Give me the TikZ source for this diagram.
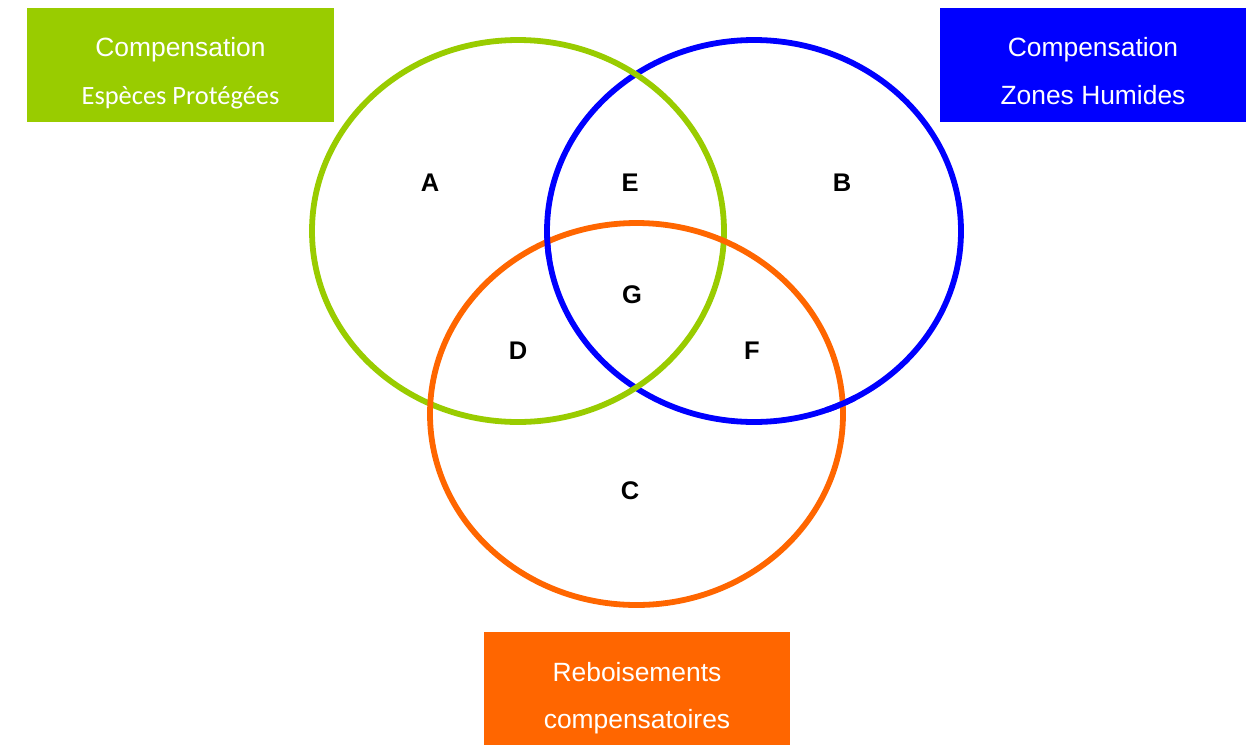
\documentclass[tikz,border=0pt]{standalone}
\usepackage{fontspec}
\setmainfont{Liberation Sans}
\newfontfamily\carlito{Carlito}
\definecolor{vgreen}{HTML}{99CC00}
\definecolor{vblue}{HTML}{0000FF}
\definecolor{vorange}{HTML}{FF6600}
\tikzset{
  ring/.style={line width=5.8pt},
  boxtext/.style={text=white, anchor=base, inner sep=0pt, font=\fontsize{26.4}{30}\selectfont},
  region/.style={inner sep=0pt, font=\fontsize{25.5}{28}\selectfont\bfseries}
}
\begin{document}
\begin{tikzpicture}[x=1pt,y=-1pt]
\useasboundingbox[fill=white] (0,0) rectangle (1249,745);
% boxes
\fill[vgreen] (27,8) rectangle (334,122);
\fill[vblue] (940,8) rectangle (1246,122);
\fill[vorange] (484,632) rectangle (790,745);
\node[boxtext] (g1) at (180.5,56) {Compensation};
\node[boxtext, font=\carlito\fontsize{26.4}{30}\selectfont] (g2) at (180.5,104.5) {Espèces Protégées};
\node[boxtext] (b1) at (1093,56) {Compensation};
\node[boxtext] (b2) at (1093,104) {Zones Humides};
\node[boxtext] (o1) at (637,681.5) {Reboisements};
\node[boxtext] (o2) at (637,728) {compensatoires};
% circles
\draw[ring, vblue] (754,231) ellipse [x radius=207, y radius=191];
\draw[ring, vgreen] (518,231) ellipse [x radius=206, y radius=191];
\draw[ring, vorange] (636.5,414) ellipse [x radius=206.5, y radius=191];
\begin{scope}
\clip (550,243) circle (16) (840,402) circle (16);
\draw[ring, vblue] (754,231) ellipse [x radius=207, y radius=191];
\end{scope}
% region labels
\node[region] (A) at (430,183) {A};
\node[region] (E) at (630,183) {E};
\node[region] (B) at (842,183) {B};
\node[region] (G) at (632,295) {G};
\node[region] (D) at (518,351) {D};
\node[region] (F) at (752,351) {F};
\node[region] (C) at (630,491) {C};
\end{tikzpicture}
\end{document}
